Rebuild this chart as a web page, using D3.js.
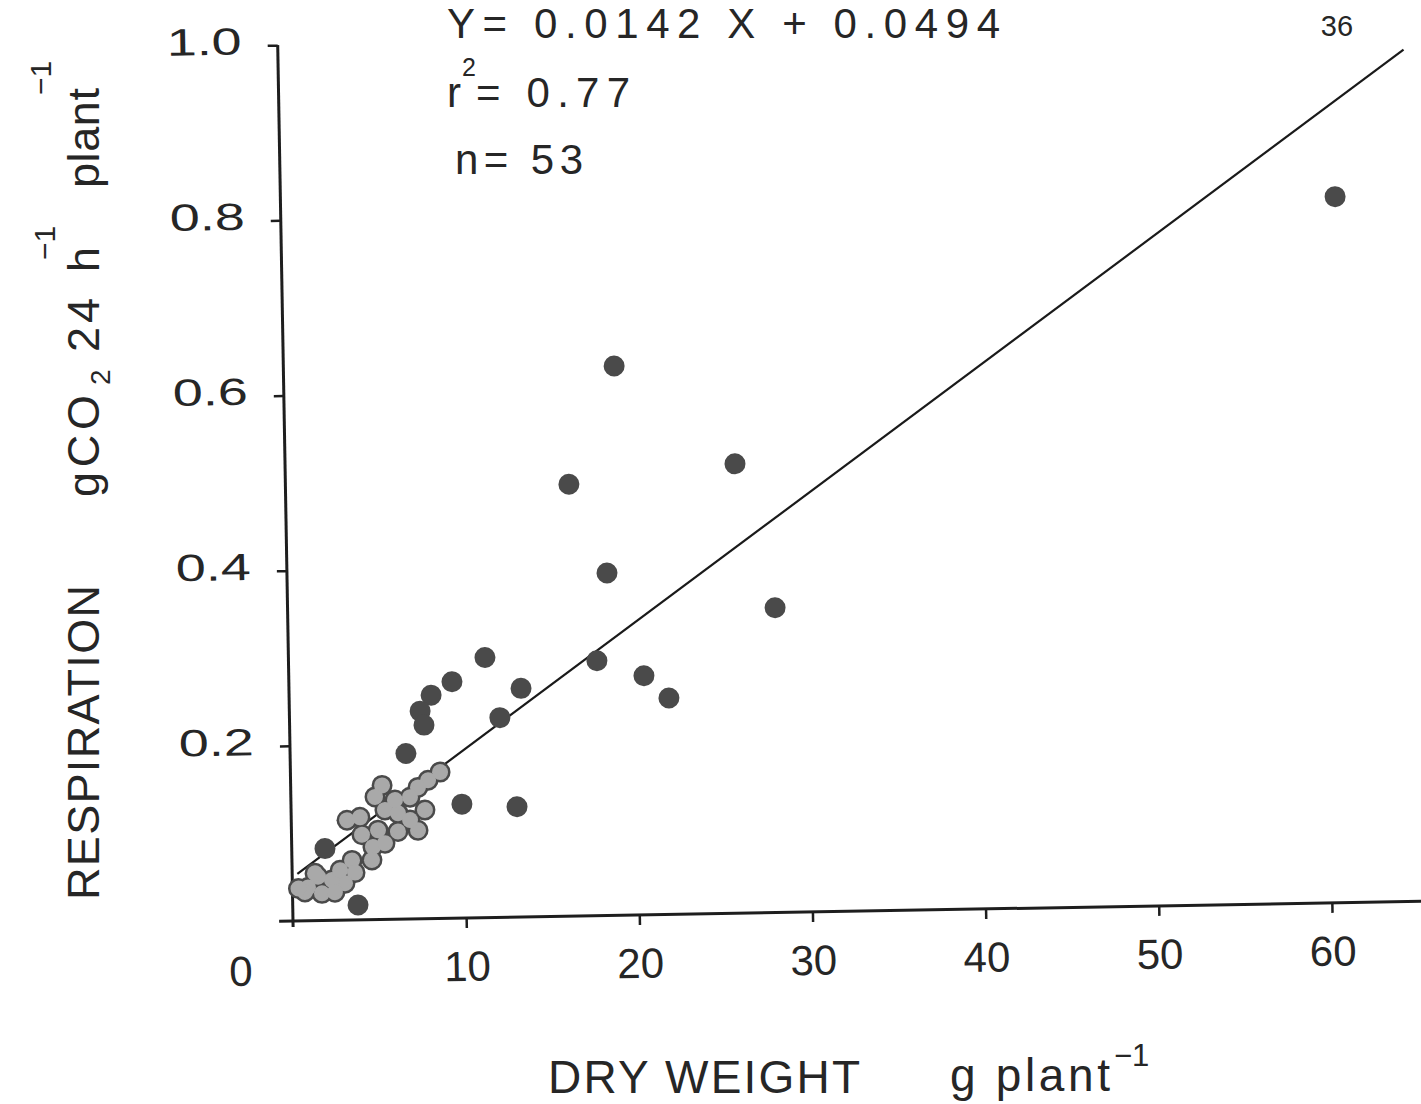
<!DOCTYPE html>
<html>
<head>
<meta charset="utf-8">
<script src="https://cdn.jsdelivr.net/npm/d3@7"></script>
<style>
  body { margin: 0; background: #ffffff; }
  svg { display: block; }
  text { font-family: "Liberation Sans", Arial, Helvetica, sans-serif; fill: #262626; }
</style>
</head>
<body>
<svg id="chart" width="1421" height="1104"></svg>
<script>
// Dry weight (g plant^-1) of each plant
const dryWeight = [
  60.9, 19.1, 16.37, 25.98, 18.48, 28.15, 17.81, 20.51, 21.93, 11.35,
  13.4, 12.15, 9.42, 8.2, 7.55, 7.76, 6.69, 9.87, 13.05, 3.77,
  1.92, 3.22, 3.97, 5.28, 4.86, 8.64, 7.94, 7.35, 6.88, 7.73,
  7.31, 6.15, 5.42, 5.0, 4.69, 4.62, 3.47, 3.63, 3.04, 2.29,
  1.49, 0.9, 0.72, 1.70, 1.32, 6.17, 5.39, 2.77, 0.35, 6.86,
  4.07, 2.45, 6.01
];
// Respiration (g CO2 24 h^-1 plant^-1) of the same plants
const respiration = [
  0.806, 0.627, 0.493, 0.513, 0.391, 0.348, 0.291, 0.273, 0.247, 0.297,
  0.261, 0.228, 0.270, 0.255, 0.237, 0.221, 0.189, 0.130, 0.126, 0.017,
  0.082, 0.114, 0.117, 0.153, 0.140, 0.167, 0.158, 0.150, 0.139, 0.124,
  0.101, 0.100, 0.125, 0.102, 0.083, 0.068, 0.068, 0.054, 0.042, 0.046,
  0.050, 0.038, 0.033, 0.031, 0.054, 0.121, 0.087, 0.057, 0.037, 0.113,
  0.097, 0.032, 0.136
];
const xTickValues = [10, 20, 30, 40, 50, 60];
const yTickValues = [0.2, 0.4, 0.6, 0.8, 1.0];
const fitSlope = 0.0142;
const fitIntercept = 0.0494;
const fitExtent = [0.3, 65];
const rSquared = "0.77";
const sampleSize = "53";

const svg = d3.select("#chart");

// Plot frame: origin of the axes and a slight tilt of the whole figure
const origin = [293, 921];
const tilt = -1;

const x = d3.scaleLinear().domain([0, 60]).range([0, 1039]);
const y = d3.scaleLinear().domain([0, 1]).range([0, -876]);

const plot = svg.append("g")
  .attr("transform", `translate(${origin[0]},${origin[1]}) rotate(${tilt})`);

// X axis
const xAxisG = plot.append("g")
  .call(d3.axisBottom(x).tickValues(xTickValues).tickSize(10).tickPadding(23).tickFormat(d3.format("d")));
xAxisG.select(".domain").remove();
xAxisG.selectAll(".tick line").attr("stroke", "#1e1e1e").attr("stroke-width", 2.5);
xAxisG.selectAll(".tick text")
  .attr("font-size", 42)
  .attr("font-family", "Liberation Sans, Arial, sans-serif")
  .attr("fill", "#262626");
plot.append("line")
  .attr("x1", x(-0.8)).attr("x2", x(66))
  .attr("y1", 0).attr("y2", 0)
  .attr("stroke", "#1e1e1e").attr("stroke-width", 3);

// The zero of both axes, written once at the corner
plot.append("text")
  .attr("x", -53).attr("y", 64)
  .attr("text-anchor", "middle")
  .attr("font-size", 42)
  .text("0");

// Y axis
const yAxisG = plot.append("g")
  .call(d3.axisLeft(y).tickValues(yTickValues).tickSize(10).tickFormat(""));
yAxisG.select(".domain").remove();
yAxisG.selectAll(".tick line").attr("stroke", "#1e1e1e").attr("stroke-width", 2.5);
plot.append("line")
  .attr("x1", 0).attr("x2", 0)
  .attr("y1", 6).attr("y2", y(1))
  .attr("stroke", "#1e1e1e").attr("stroke-width", 3);

// Wide tick labels on the y axis
plot.selectAll("text.ylab")
  .data(yTickValues)
  .join("text")
  .attr("class", "ylab")
  .attr("transform", d => `translate(-36,${y(d) - 5}) scale(1.42,1)`)
  .attr("text-anchor", "end")
  .attr("dy", "0.36em")
  .attr("font-size", 38)
  .text(d3.format(".1f"));

// Fitted regression line
const fitLine = d3.line()
  .x(d => x(d))
  .y(d => y(fitSlope * d + fitIntercept));
plot.append("path")
  .attr("d", fitLine(fitExtent))
  .attr("fill", "none")
  .attr("stroke", "#1a1a1a")
  .attr("stroke-width", 2.2);

// Observations: large groups of touching markers merge into a pale cloud with a dark rim
const pts = dryWeight.map((d, i) => ({ px: x(d), py: y(respiration[i]) }));
const r = 10;
const parent = pts.map((_, i) => i);
const find = i => (parent[i] === i ? i : (parent[i] = find(parent[i])));
pts.forEach((p, i) => pts.forEach((q, j) => {
  if (j > i && Math.hypot(p.px - q.px, p.py - q.py) < 2 * r) parent[find(i)] = find(j);
}));
const groupSize = d3.rollup(pts.map((_, i) => find(i)), v => v.length, d => d);
pts.forEach((p, i) => { p.crowded = groupSize.get(find(i)) >= 5; });

plot.append("g").selectAll("circle")
  .data(pts)
  .join("circle")
  .attr("cx", d => d.px).attr("cy", d => d.py)
  .attr("r", r + 0.5)
  .attr("fill", "#4a4a4a");
plot.append("g").selectAll("circle")
  .data(pts.filter(p => p.crowded))
  .join("circle")
  .attr("cx", d => d.px).attr("cy", d => d.py)
  .attr("r", r - 2)
  .attr("fill", "#a9a9a9");

// Regression statistics
svg.append("text")
  .attr("x", 447).attr("y", 38)
  .attr("font-size", 42)
  .attr("textLength", 553).attr("lengthAdjust", "spacing")
  .text(`Y= ${fitSlope} X + ${fitIntercept}`);
svg.append("text").attr("x", 447).attr("y", 107).attr("font-size", 42).text("r");
svg.append("text").attr("x", 462).attr("y", 76).attr("font-size", 25).text("2");
svg.append("text")
  .attr("x", 476).attr("y", 107)
  .attr("font-size", 42)
  .attr("textLength", 154).attr("lengthAdjust", "spacing")
  .text(`= ${rSquared}`);
svg.append("text")
  .attr("x", 455).attr("y", 174)
  .attr("font-size", 42)
  .attr("textLength", 128).attr("lengthAdjust", "spacing")
  .text(`n= ${sampleSize}`);

// Page number
svg.append("text")
  .attr("x", 1337).attr("y", 36)
  .attr("text-anchor", "middle")
  .attr("font-size", 29)
  .attr("fill", "#333")
  .text("36");

// X axis title
svg.append("text")
  .attr("x", 548).attr("y", 1093)
  .attr("font-size", 46)
  .attr("textLength", 312).attr("lengthAdjust", "spacing")
  .text("DRY WEIGHT");
svg.append("text")
  .attr("x", 950).attr("y", 1091)
  .attr("font-size", 46)
  .attr("textLength", 160).attr("lengthAdjust", "spacing")
  .text("g plant");
svg.append("text")
  .attr("x", 1114).attr("y", 1066)
  .attr("font-size", 31)
  .text("\u22121");

// Y axis title, read bottom to top
const yTitle = svg.append("g").attr("transform", "translate(99,900) rotate(-90)");
const yParts = [
  { t: "RESPIRATION", at: 0, len: 315, size: 45, dy: 0 },
  { t: "gCO", at: 403, len: 102, size: 45, dy: 0 },
  { t: "2", at: 515, len: null, size: 28, dy: 11 },
  { t: "24", at: 548, len: 54, size: 45, dy: 0 },
  { t: "h", at: 628, len: null, size: 45, dy: 0 },
  { t: "\u22121", at: 640, len: null, size: 30, dy: -44 },
  { t: "plant", at: 712, len: 100, size: 45, dy: 0 },
  { t: "\u22121", at: 805, len: null, size: 30, dy: -48 }
];
yParts.forEach(p => {
  const t = yTitle.append("text")
    .attr("x", p.at).attr("y", p.dy)
    .attr("font-size", p.size)
    .text(p.t);
  if (p.len) t.attr("textLength", p.len).attr("lengthAdjust", "spacing");
});
</script>
</body>
</html>
